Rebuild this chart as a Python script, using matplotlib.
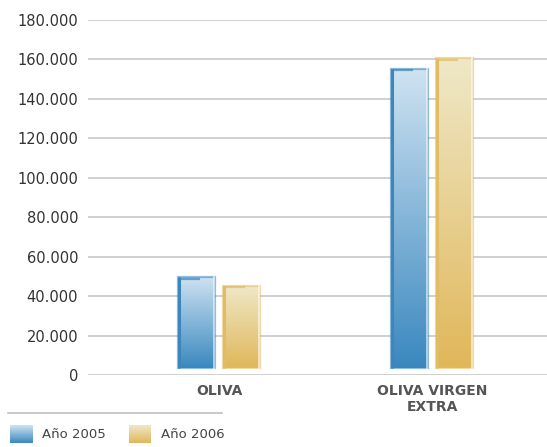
import numpy as np
import matplotlib
matplotlib.use("Agg")
import matplotlib.pyplot as plt
from matplotlib.colors import LinearSegmentedColormap
from matplotlib.patches import Rectangle
from matplotlib.ticker import FuncFormatter

categories = ["OLIVA", "OLIVA VIRGEN\nEXTRA"]
series_names = ["Año 2005", "Año 2006"]
values_2005 = [49500, 155000]
values_2006 = [45200, 160500]
yticks = [0, 20000, 40000, 60000, 80000, 100000, 120000, 140000, 160000, 180000]

# style
colors_top = ["#cfe3f2", "#efe8c8"]
colors_bot = ["#3a88bf", "#e0b75a"]
edge_cols = ["#3b86bd", "#e2bc62"]
bar_floor = 3300
width = 0.17
offset = 0.106

fig = plt.figure(figsize=(5.47, 4.47), dpi=100)
ax = fig.add_axes([88/547, 1-375/447, 1-88/547, (375-20)/447])
ax.set_ylim(0, 180000)
ax.set_xlim(-0.615, 1.54)
ax.set_yticks(yticks)
ax.yaxis.set_major_formatter(FuncFormatter(lambda v, p: f"{int(v):,}".replace(",", ".")))
ax.grid(axis="y", color="#c4c4c4", linewidth=1.1)
ax.set_axisbelow(True)
for s in ax.spines.values():
    s.set_visible(False)
ax.tick_params(axis="y", length=0, pad=7, labelsize=10.5, labelcolor="#333333")
ax.tick_params(axis="x", length=0)
ax.set_xticks([])

x = np.arange(len(categories))
grad = np.linspace(0, 1, 256).reshape(-1, 1)
for si, vals in enumerate([values_2005, values_2006]):
    cmap = LinearSegmentedColormap.from_list("g%d" % si, [colors_bot[si], colors_top[si]])
    xs = x + (-offset if si == 0 else offset)
    bars = ax.bar(xs, np.array(vals) - bar_floor, width=width, bottom=bar_floor,
                  color="none", edgecolor="none", zorder=3)
    for b in bars:
        x0, y0 = b.get_x(), b.get_y()
        w, h = b.get_width(), b.get_height()
        im = ax.imshow(grad, cmap=cmap, origin="lower", aspect="auto",
                       extent=[x0, x0 + w, y0, y0 + h], zorder=3)
        im.set_clip_path(b)
        # border: darker left/top, lighter right
        ax.add_patch(Rectangle((x0, y0), w, h, fill=False, edgecolor=edge_cols[si],
                               linewidth=1.6, alpha=0.55, zorder=4))
        ax.plot([x0 + 0.004, x0 + 0.004], [y0, y0 + h], color=edge_cols[si], lw=2.2, zorder=5,
                solid_capstyle="butt")
        ax.plot([x0, x0 + w * 0.6], [y0 + h - 600, y0 + h - 600], color=edge_cols[si], lw=1.6,
                alpha=0.7, zorder=5, solid_capstyle="butt")
        ax.plot([x0 + w - 0.004, x0 + w - 0.004], [y0, y0 + h], color="white", lw=1.4,
                alpha=0.6, zorder=5)
ax.set_xlim(-0.615, 1.54)
ax.set_ylim(0, 180000)

for xi, cat in zip(x, categories):
    ax.text(xi, -4500, cat, ha="center", va="top", fontsize=10, fontweight="bold",
            color="#555555", linespacing=1.15)

# legend
fig.add_artist(plt.Line2D([8/547, 222/547], [1-413/447, 1-413/447], color="#bbbbbb", lw=1.1))
leg_x = [10, 129]
for i, name in enumerate(series_names):
    cmap = LinearSegmentedColormap.from_list("l%d" % i, [colors_bot[i], colors_top[i]])
    lax = fig.add_axes([leg_x[i]/547, 1-443/447, 22/547, 18/447])
    lax.imshow(np.linspace(0, 1, 64).reshape(-1, 1)[::-1] * 0 + np.linspace(1, 0, 64).reshape(-1, 1),
               cmap=cmap, aspect="auto", extent=[0, 1, 0, 1], origin="upper")
    lax.set_axis_off()
    fig.text((leg_x[i] + 32)/547, 1-434/447, name, ha="left", va="center", fontsize=9.5,
             color="#444444")

fig.savefig("out.png", dpi=100)
